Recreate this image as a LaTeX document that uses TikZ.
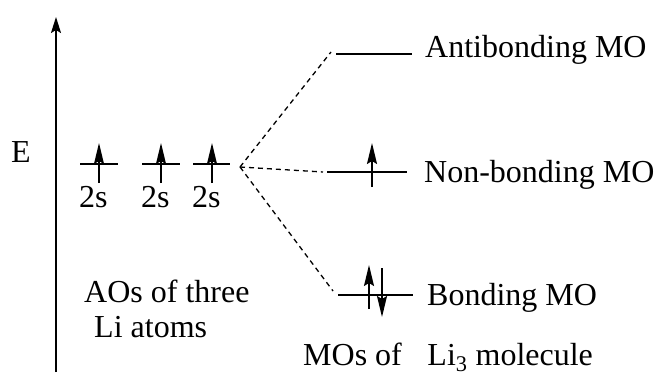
\documentclass[tikz,border=0pt]{standalone}
\usepackage{fontspec}
\setmainfont{Liberation Serif}
\usetikzlibrary{arrows.meta}
\begin{document}
\begin{tikzpicture}[x=1pt,y=-1pt,
  lvl/.style={line width=1.6pt},
  spin/.style={line width=1.6pt,-{Stealth[length=21pt,width=10pt,inset=3pt]}},
  axisarrow/.style={line width=1.6pt,-{Stealth[length=16pt,width=10pt,inset=3pt]}},
  corr/.style={line width=1.3pt,dash pattern=on 5pt off 4pt},
  lab/.style={anchor=base west,inner sep=0pt,font=\fontsize{32}{38}\selectfont}]
\useasboundingbox (0,0) rectangle (660,385);
% energy axis
\coordinate (ebot) at (56,372);
\coordinate (etop) at (56,17);
\draw[axisarrow] (ebot) -- (etop);
\node[lab] (E) at (11,162) {E};
% AO levels
\coordinate (a1l) at (80,164); \coordinate (a1r) at (118,164);
\coordinate (a2l) at (142,164); \coordinate (a2r) at (180,164);
\coordinate (a3l) at (193,164); \coordinate (a3r) at (230,164);
\draw[lvl] (a1l) -- (a1r);
\draw[lvl] (a2l) -- (a2r);
\draw[lvl] (a3l) -- (a3r);
\coordinate (s1b) at (99,183); \coordinate (s1t) at (99,143);
\coordinate (s2b) at (161,183); \coordinate (s2t) at (161,143);
\coordinate (s3b) at (212,183); \coordinate (s3t) at (212,143);
\draw[spin] (s1b) -- (s1t);
\draw[spin] (s2b) -- (s2t);
\draw[spin] (s3b) -- (s3t);
\node[lab] (l1) at (79,207) {2s};
\node[lab] (l2) at (141,207) {2s};
\node[lab] (l3) at (192,207) {2s};
\node[lab] (aos) at (84,302) {AOs of three};
\node[lab] (li) at (94,337) {Li atoms};
% MO levels
\coordinate (abl) at (336,54); \coordinate (abr) at (412,54);
\coordinate (nbl) at (327,172); \coordinate (nbr) at (407,172);
\coordinate (bl) at (338,295); \coordinate (br) at (413,295);
\draw[lvl] (abl) -- (abr);
\draw[lvl] (nbl) -- (nbr);
\draw[lvl] (bl) -- (br);
\coordinate (nsb) at (372,187); \coordinate (nst) at (372,143);
\draw[spin] (nsb) -- (nst);
\coordinate (bub) at (369,309); \coordinate (but) at (369,265);
\coordinate (bdt) at (382,268); \coordinate (bdb) at (382,317);
\draw[spin] (bub) -- (but);
\draw[spin] (bdt) -- (bdb);
% correlation lines
\coordinate (conv) at (240,167);
\coordinate (abend) at (331,52);
\coordinate (nbend) at (323,172);
\coordinate (bend) at (333,291);
\draw[corr] (conv) -- (abend);
\draw[corr] (conv) -- (nbend);
\draw[corr] (conv) -- (bend);
% labels
\node[lab] (abt) at (425,58) {Antibonding MO};
\node[lab] (nbt) at (424,182) {Non-bonding MO};
\node[lab] (bt) at (427,305) {Bonding MO};
\node[lab] (mos) at (303,365) {MOs of\hspace{0.8em}Li\textsubscript{3} molecule};
\end{tikzpicture}
\end{document}
